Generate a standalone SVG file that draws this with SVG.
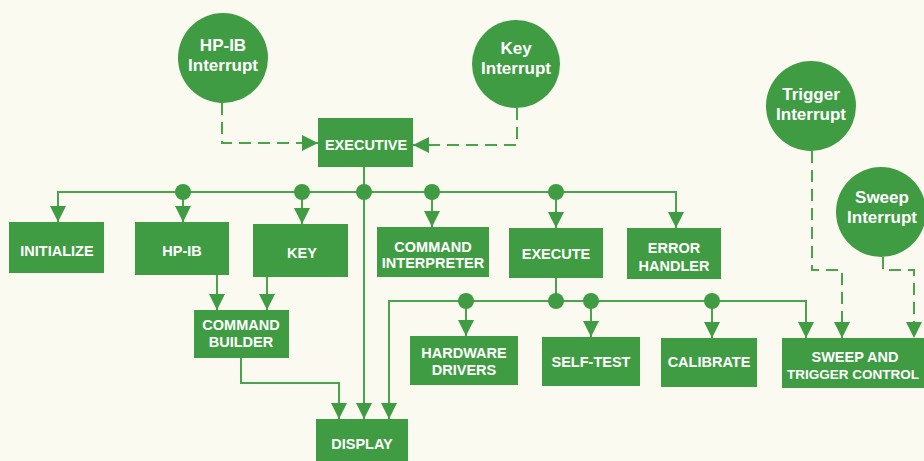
<svg xmlns="http://www.w3.org/2000/svg" width="924" height="461" viewBox="0 0 924 461">
<defs>
<style>
.bg{fill:#fbfaf0}
.box{fill:#3f9c43}
.circ{fill:#3f9c43}
.t{fill:#ffffff;font-family:"Liberation Sans",Arial,sans-serif;font-weight:bold;font-size:14.5px;text-anchor:middle}
.ct{fill:#ffffff;font-family:"Liberation Sans",Arial,sans-serif;font-weight:bold;font-size:17px;text-anchor:middle}
.ln{fill:none;stroke:#4aa44c;stroke-width:2}
.dash{stroke-dasharray:12 7}
.dot{fill:#3f9c43}
</style>
<marker id="arr" markerUnits="userSpaceOnUse" markerWidth="16" markerHeight="16" refX="16" refY="8" orient="auto" viewBox="0 0 16 16">
<path d="M0,0 L16,8 L0,16 z" fill="#3f9c43"/>
</marker>
</defs>
<rect class="bg" x="0" y="0" width="924" height="461"/>

<g id="connectors">
<path class="ln dash" d="M222,103 V143 H318" marker-end="url(#arr)"/>
<path class="ln dash" d="M517,108 V145 H413" marker-end="url(#arr)"/>
<path class="ln" d="M364,167 V419" marker-end="url(#arr)"/>
<path class="ln" d="M364,192 H58 V222" marker-end="url(#arr)"/>
<path class="ln" d="M364,192 H676 V228" marker-end="url(#arr)"/>
<path class="ln" d="M183,192 V222" marker-end="url(#arr)"/>
<path class="ln" d="M302,192 V224" marker-end="url(#arr)"/>
<path class="ln" d="M432,192 V227" marker-end="url(#arr)"/>
<path class="ln" d="M556,192 V228" marker-end="url(#arr)"/>
<path class="ln" d="M217,275 V310" marker-end="url(#arr)"/>
<path class="ln" d="M267,277 V310" marker-end="url(#arr)"/>
<path class="ln" d="M241,358 V383 H339 V419" marker-end="url(#arr)"/>
<path class="ln" d="M556,278 V301"/>
<path class="ln" d="M556,301 H389 V419" marker-end="url(#arr)"/>
<path class="ln" d="M556,301 H806 V338" marker-end="url(#arr)"/>
<path class="ln" d="M466,301 V336" marker-end="url(#arr)"/>
<path class="ln" d="M591,301 V337" marker-end="url(#arr)"/>
<path class="ln" d="M712,301 V338" marker-end="url(#arr)"/>
<path class="ln dash" d="M812,151 V270 H842 V338" marker-end="url(#arr)"/>
<path class="ln dash" d="M883,257 V270 H914 V338" marker-end="url(#arr)"/>
<circle class="dot" cx="183" cy="192" r="8"/>
<circle class="dot" cx="302" cy="192" r="8"/>
<circle class="dot" cx="364" cy="192" r="8"/>
<circle class="dot" cx="432" cy="192" r="8"/>
<circle class="dot" cx="556" cy="192" r="8"/>
<circle class="dot" cx="466" cy="301" r="8"/>
<circle class="dot" cx="556" cy="301" r="8"/>
<circle class="dot" cx="591" cy="301" r="8"/>
<circle class="dot" cx="712" cy="301" r="8"/>
</g>

<g id="hpib-interrupt"><circle class="circ" cx="223" cy="58" r="45"/><text class="ct" x="223" y="51">HP-IB</text><text class="ct" x="223" y="71">Interrupt</text></g>
<g id="key-interrupt"><circle class="circ" cx="516" cy="64" r="44"/><text class="ct" x="516" y="54">Key</text><text class="ct" x="516" y="74">Interrupt</text></g>
<g id="trigger-interrupt"><circle class="circ" cx="811" cy="106" r="45"/><text class="ct" x="811" y="100">Trigger</text><text class="ct" x="811" y="120">Interrupt</text></g>
<g id="sweep-interrupt"><circle class="circ" cx="881" cy="212" r="45"/><text class="ct" x="882" y="203">Sweep</text><text class="ct" x="882" y="223">Interrupt</text></g>

<g id="executive"><rect class="box" x="318" y="118" width="95" height="49"/><text class="t" x="366" y="150">EXECUTIVE</text></g>
<g id="initialize"><rect class="box" x="9" y="222" width="95" height="51"/><text class="t" x="57" y="256">INITIALIZE</text></g>
<g id="hpib"><rect class="box" x="135" y="222" width="94" height="53"/><text class="t" x="182" y="256">HP-IB</text></g>
<g id="key"><rect class="box" x="253" y="224" width="95" height="53"/><text class="t" x="302" y="258">KEY</text></g>
<g id="command-builder"><rect class="box" x="194" y="310" width="95" height="48"/><text class="t" x="241" y="330">COMMAND</text><text class="t" x="241" y="347">BUILDER</text></g>
<g id="command-interpreter"><rect class="box" x="377" y="227" width="112" height="50"/><text class="t" x="433" y="252">COMMAND</text><text class="t" x="433" y="268">INTERPRETER</text></g>
<g id="execute"><rect class="box" x="509" y="228" width="94" height="50"/><text class="t" x="556" y="259">EXECUTE</text></g>
<g id="error-handler"><rect class="box" x="627" y="228" width="94" height="51"/><text class="t" x="674" y="253">ERROR</text><text class="t" x="674" y="271">HANDLER</text></g>
<g id="display"><rect class="box" x="316" y="419" width="92" height="50"/><text class="t" x="362" y="449">DISPLAY</text></g>
<g id="hardware-drivers"><rect class="box" x="410" y="336" width="108" height="49"/><text class="t" x="464" y="358">HARDWARE</text><text class="t" x="464" y="375">DRIVERS</text></g>
<g id="self-test"><rect class="box" x="542" y="337" width="98" height="49"/><text class="t" x="591" y="367">SELF-TEST</text></g>
<g id="calibrate"><rect class="box" x="661" y="338" width="96" height="49"/><text class="t" x="709" y="367">CALIBRATE</text></g>
<g id="sweep-trigger-control"><rect class="box" x="782" y="338" width="152" height="50"/><text class="t" x="855" y="362">SWEEP AND</text><text class="t" x="853" y="379" style="font-size:13.5px">TRIGGER CONTROL</text></g>
</svg>
